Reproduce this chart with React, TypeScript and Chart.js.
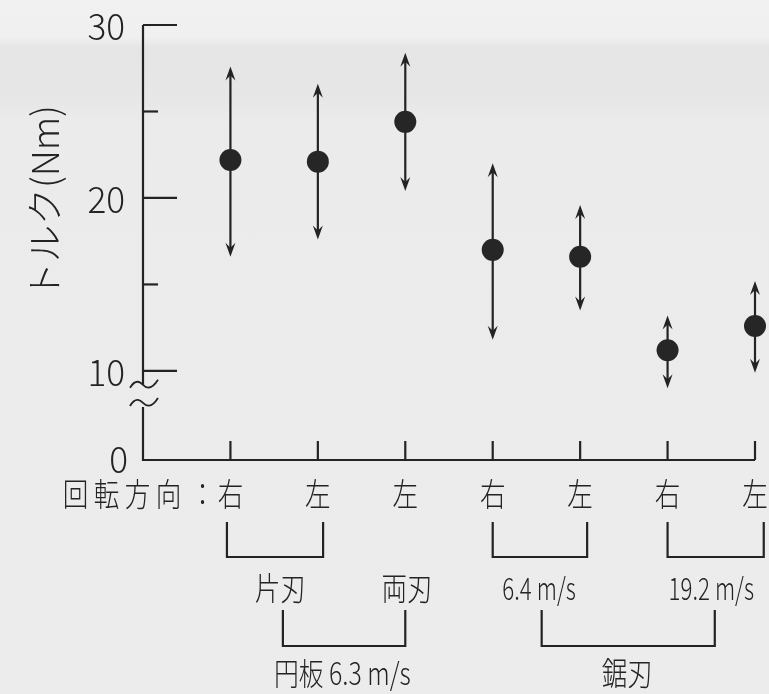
import React, { useEffect, useRef } from 'react';
import { Chart, registerables } from 'chart.js';

Chart.register(...registerables);

// ---- data ----
const categories = ['右', '左', '左', '右', '左', '右', '左'];
const categoryX = [1, 2, 3, 4, 5, 6, 7];
const meanTorque = [22.2, 22.1, 24.4, 17.0, 16.6, 11.2, 12.6];
const upperTorque = [27.6, 26.6, 28.4, 22.0, 19.6, 13.2, 15.2];
const lowerTorque = [16.6, 17.6, 20.4, 11.8, 13.5, 9.0, 9.9];
const majorTicks = [10, 20, 30];
const minorTicks = [15, 25];
const zeroTickLabel = '0';
const rowTitle = ['回', '転', '方', '向', '：'];
const yTitle = 'トルク(Nm)';
const bladeLabels = ['片刃', '両刃', '6.4 m/s', '19.2 m/s'];
const groupLabels = ['円板 6.3 m/s', '鋸刃'];

const Y_MIN = 4.85;
const Y_MAX = 30;
const BREAK_HIGH = 9.2;
const BREAK_LOW = 8.15;

const INK = '#232323';
const FONT = '"Noto Sans CJK JP", "Noto Sans", sans-serif';

function drawText(ctx: CanvasRenderingContext2D, text: string, cx: number, cy: number, size: number, sx = 1, align: CanvasTextAlign = 'center', weight = 300) {
  ctx.save();
  ctx.translate(cx, cy);
  ctx.scale(sx, 1);
  ctx.font = `${weight} ${size}px ${FONT}`;
  ctx.textAlign = align;
  ctx.textBaseline = 'middle';
  ctx.fillStyle = INK;
  ctx.fillText(text, 0, 0);
  ctx.restore();
}

function arrowHead(ctx: CanvasRenderingContext2D, x: number, tipY: number, dir: number) {
  const len = 14;
  const half = 5;
  const notch = 9;
  ctx.beginPath();
  ctx.moveTo(x, tipY);
  ctx.lineTo(x - half, tipY - dir * len);
  ctx.lineTo(x, tipY - dir * notch);
  ctx.lineTo(x + half, tipY - dir * len);
  ctx.closePath();
  ctx.fill();
}

function tilde(ctx: CanvasRenderingContext2D, cx: number, cy: number) {
  ctx.beginPath();
  ctx.moveTo(cx - 13, cy + 3);
  ctx.bezierCurveTo(cx - 7, cy - 7, cx - 2, cy - 2, cx, cy);
  ctx.bezierCurveTo(cx + 3, cy + 3, cx + 8, cy + 6, cx + 15, cy - 5);
  ctx.stroke();
}

const errorBarPlugin = {
  id: 'errorBars',
  beforeDatasetsDraw(chart: any) {
    const { ctx, scales } = chart;
    const xs = scales.x;
    const ys = scales.y;
    ctx.save();
    ctx.strokeStyle = INK;
    ctx.fillStyle = INK;
    ctx.lineWidth = 2.2;
    categoryX.forEach((cx, i) => {
      const px = xs.getPixelForValue(cx);
      const top = ys.getPixelForValue(upperTorque[i]);
      const bot = ys.getPixelForValue(lowerTorque[i]);
      ctx.beginPath();
      ctx.moveTo(px, top + 8);
      ctx.lineTo(px, bot - 8);
      ctx.stroke();
      arrowHead(ctx, px, top, -1);
      arrowHead(ctx, px, bot, 1);
    });
    ctx.restore();
  },
};

const framePlugin = {
  id: 'frame',
  afterDraw(chart: any) {
    const { ctx, scales } = chart;
    const xs = scales.x;
    const ys = scales.y;
    const x0 = xs.getPixelForValue(0);
    const xEnd = xs.getPixelForValue(categoryX[categoryX.length - 1]);
    const yBottom = ys.getPixelForValue(Y_MIN);
    const yTop = ys.getPixelForValue(Y_MAX);
    const bHi = ys.getPixelForValue(BREAK_HIGH);
    const bLo = ys.getPixelForValue(BREAK_LOW);
    ctx.save();
    ctx.strokeStyle = INK;
    ctx.fillStyle = INK;
    ctx.lineWidth = 2.2;
    ctx.lineCap = 'butt';

    // y axis with break
    ctx.beginPath();
    ctx.moveTo(x0, yTop);
    ctx.lineTo(x0, bHi);
    ctx.moveTo(x0, bLo + 4);
    ctx.lineTo(x0, yBottom);
    // x axis
    ctx.lineTo(xEnd, yBottom);
    ctx.stroke();
    ctx.lineWidth = 1.8;
    tilde(ctx, x0, bHi);
    tilde(ctx, x0, bLo);
    ctx.lineWidth = 2.2;

    // y ticks (inward)
    majorTicks.forEach((v) => {
      const py = ys.getPixelForValue(v);
      ctx.beginPath();
      ctx.moveTo(x0, py);
      ctx.lineTo(x0 + 34, py);
      ctx.stroke();
      drawText(ctx, String(v), x0 - 18, py + 1, 37, 0.95, 'right', 300);
    });
    minorTicks.forEach((v) => {
      const py = ys.getPixelForValue(v);
      ctx.beginPath();
      ctx.moveTo(x0, py);
      ctx.lineTo(x0 + 15, py);
      ctx.stroke();
    });
    drawText(ctx, zeroTickLabel, x0 - 15, yBottom - 1, 37, 0.95, 'right', 300);

    // x ticks (inward)
    categoryX.forEach((cx) => {
      const px = xs.getPixelForValue(cx);
      ctx.beginPath();
      ctx.moveTo(px, yBottom);
      ctx.lineTo(px, yBottom - 19);
      ctx.stroke();
    });

    // y title
    ctx.save();
    ctx.translate(45, 202);
    ctx.rotate(-Math.PI / 2);
    ctx.font = `300 37px ${FONT}`;
    ctx.textAlign = 'center';
    ctx.textBaseline = 'middle';
    ctx.fillText(yTitle, 0, 0);
    ctx.restore();

    // category labels
    const rowY = yBottom + 34;
    categories.forEach((c, i) => {
      drawText(ctx, c, xs.getPixelForValue(categoryX[i]), rowY, 32, 0.8);
    });
    const firstX = xs.getPixelForValue(categoryX[0]);
    const pitch = 31;
    rowTitle.forEach((ch, k) => {
      const cx = firstX - pitch * (rowTitle.length - k) + (ch === '：' ? 3 : 0);
      drawText(ctx, ch, cx, rowY, 32, 0.8);
    });

    const bracket = (a: number, b: number, top: number, bottom: number) => {
      const pa = xs.getPixelForValue(a);
      const pb = xs.getPixelForValue(b);
      ctx.beginPath();
      ctx.moveTo(pa, top);
      ctx.lineTo(pa, bottom);
      ctx.lineTo(pb, bottom);
      ctx.lineTo(pb, top);
      ctx.stroke();
    };

    // first-level brackets
    const b1Top = yBottom + 62;
    const b1Bot = yBottom + 97;
    bracket(0.96, 2.06, b1Top, b1Bot);
    bracket(4.0, 5.08, b1Top, b1Bot);
    bracket(6.0, 7.1, b1Top, b1Bot);
    const lab1Y = yBottom + 128;
    drawText(ctx, bladeLabels[0], xs.getPixelForValue(1.57), lab1Y, 32, 0.8);
    drawText(ctx, bladeLabels[1], xs.getPixelForValue(3.02), lab1Y, 32, 0.8);
    drawText(ctx, bladeLabels[2], xs.getPixelForValue(4.53), lab1Y, 31, 0.72);
    drawText(ctx, bladeLabels[3], xs.getPixelForValue(6.5), lab1Y, 31, 0.72);

    // second-level brackets
    const b2Top = yBottom + 150;
    const b2Bot = yBottom + 186;
    bracket(1.6, 3.0, b2Top, b2Bot);
    bracket(4.56, 6.54, b2Top, b2Bot);
    const lab2Y = yBottom + 213;
    drawText(ctx, groupLabels[0], xs.getPixelForValue(2.28), lab2Y, 31, 0.8);
    drawText(ctx, groupLabels[1], xs.getPixelForValue(5.54), lab2Y, 32, 0.8);

    ctx.restore();
  },
};

export default function App() {
  const canvasRef = useRef<HTMLCanvasElement | null>(null);

  useEffect(() => {
    if (!canvasRef.current) return;
    const chart = new Chart(canvasRef.current, {
      type: 'scatter',
      data: {
        datasets: [
          {
            label: 'トルク',
            data: categoryX.map((x, i) => ({ x, y: meanTorque[i] })),
            pointRadius: 11,
            pointHoverRadius: 11,
            backgroundColor: '#262626',
            borderColor: '#262626',
            borderWidth: 0,
            clip: false as any,
          },
        ],
      },
      options: {
        animation: false,
        responsive: true,
        maintainAspectRatio: false,
        layout: { padding: { left: 143, top: 25, right: 14, bottom: 234 } },
        plugins: { legend: { display: false }, tooltip: { enabled: false } },
        events: [],
        scales: {
          x: { type: 'linear', min: 0, max: 7, display: false },
          y: { type: 'linear', min: Y_MIN, max: Y_MAX, display: false },
        },
      },
      plugins: [errorBarPlugin, framePlugin],
    });
    return () => chart.destroy();
  }, []);

  return (
    <div
      style={{
        position: 'fixed',
        left: 0,
        top: 0,
        width: 769,
        height: 694,
        background: 'linear-gradient(180deg, #f1f1f1 0px, #f0f0f0 36px, #e5e5e5 48px, #e7e7e7 100px, #ebebeb 120px, #ececec 694px)',
      }}
    >
      <canvas ref={canvasRef} style={{ display: 'block' }} />
    </div>
  );
}
